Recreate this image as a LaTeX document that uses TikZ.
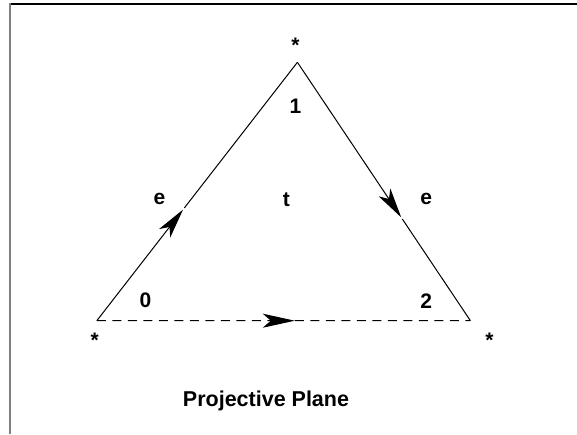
\documentclass[tikz,border=0pt]{standalone}
\usepackage{fontspec}
\setmainfont{Liberation Sans}
\usetikzlibrary{arrows.meta,calc}
\begin{document}
\begin{tikzpicture}[x=1pt,y=-1pt,
  edge/.style={line width=1pt,black},
  tipped/.style={edge,-{Stealth[length=30pt,width=14pt,inset=8pt]}},
  dashedge/.style={edge,dash pattern=on 9pt off 6.5pt},
  lbl/.style={font=\fontsize{21}{21}\selectfont\bfseries,inner sep=0pt},
  star/.style={font=\fontsize{21}{21}\selectfont\bfseries,inner sep=0pt},
  title/.style={font=\fontsize{21.5}{21.5}\selectfont\bfseries,inner sep=0pt}]
\useasboundingbox (0,0) rectangle (577,434);
% frame
\draw[line width=1.6pt,black] (9,4) -- (577,4);
\draw[line width=2pt,gray] (9.5,3.2) -- (9.5,434);
% vertices
\coordinate (A) at (96.8,320.7);
\coordinate (B) at (297.4,62.3);
\coordinate (C) at (470.4,320.7);
\coordinate (P1) at ($(A)!0.43!(B)$);
\coordinate (P2) at ($(B)!0.60!(C)$);
\coordinate (P3) at ($(A)!0.53!(C)$);
% edges
\draw[tipped] (A) -- (P1);
\draw[edge,shorten <=2pt] (P1) -- (B);
\draw[tipped] (B) -- (P2);
\draw[edge,shorten <=2pt] (P2) -- (C);
\draw[dashedge,-{Stealth[length=32pt,width=14pt,inset=8pt]}] (A) -- (P3);
\draw[dashedge] (P3) -- (C);
% stars
\node[star] (sB) at (295.5,45) {*};
\node[star] (sA) at (94.6,340) {*};
\node[star] (sC) at (489.5,340) {*};
% labels
\node[lbl] (n1) at (295.5,106.7) {1};
\node[lbl] (n0) at (145.4,300.7) {0};
\node[lbl] (n2) at (426.2,300.7) {2};
\node[lbl] (eL) at (159.4,199) {e};
\node[lbl] (eR) at (426.2,199) {e};
\node[lbl] (t) at (286.3,200) {t};
\node[title] (ttl) at (266,401) {Projective Plane};
\end{tikzpicture}
\end{document}
